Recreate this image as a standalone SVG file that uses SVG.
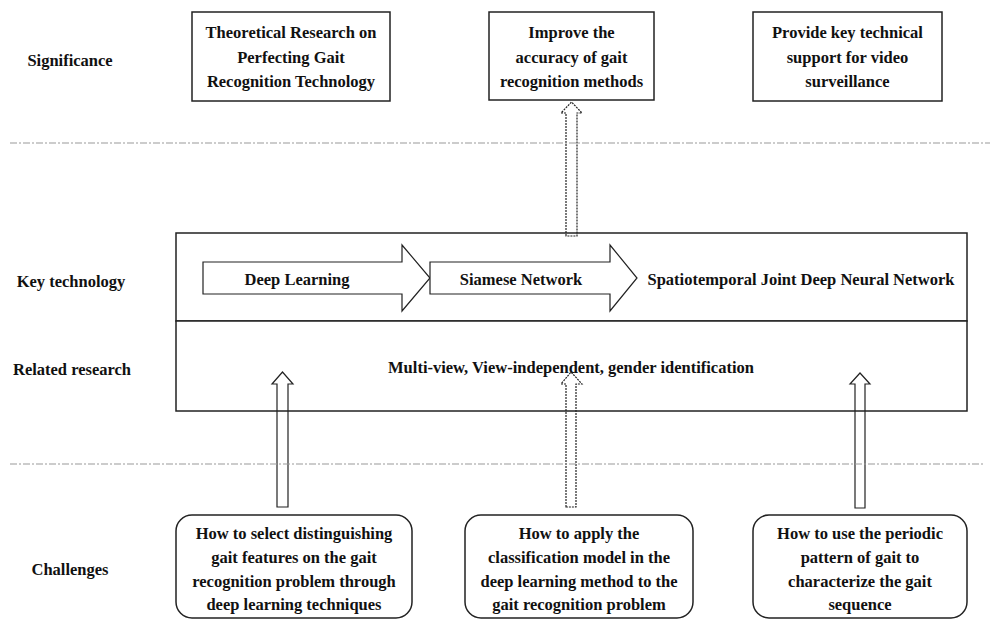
<svg xmlns="http://www.w3.org/2000/svg" width="1008" height="635" viewBox="0 0 1008 635">
<style>
text{font-family:"Liberation Serif","Times New Roman",serif;font-weight:bold;font-size:16.5px;fill:#111;text-anchor:middle}
.box{fill:#fff;stroke:#222;stroke-width:1.5}
.rbox{fill:#fff;stroke:#222;stroke-width:1.5}
.blk{fill:#fff;stroke:#222;stroke-width:1.2}
.up{fill:none;stroke:#222;stroke-width:1.2}
.upd{fill:none;stroke:#222;stroke-width:1.2;stroke-dasharray:2 1}
.sep{fill:none;stroke:#999;stroke-width:1;stroke-dasharray:7 2 2 2}
</style>
<rect width="1008" height="635" fill="#fff"/>

<g id="labels">
<text x="70" y="66">Significance</text>
<text x="71" y="287">Key technology</text>
<text x="72" y="375">Related research</text>
<text x="70" y="575">Challenges</text>
</g>

<g id="sig1">
<rect class="box" x="192" y="12" width="198" height="89"/>
<text x="291" y="38">Theoretical Research on</text>
<text x="291" y="63">Perfecting Gait</text>
<text x="291" y="87">Recognition Technology</text>
</g>
<g id="sig2">
<rect class="box" x="489" y="12" width="165" height="88"/>
<text x="571.5" y="38">Improve the</text>
<text x="571.5" y="63">accuracy of gait</text>
<text x="571.5" y="87">recognition methods</text>
</g>
<g id="sig3">
<rect class="box" x="753" y="12" width="189" height="89"/>
<text x="847.5" y="38">Provide key technical</text>
<text x="847.5" y="63">support for video</text>
<text x="847.5" y="87">surveillance</text>
</g>

<g id="keytech">
<rect class="box" x="176" y="233" width="791" height="88"/>
</g>
<g id="related">
<rect class="box" x="176" y="321" width="791" height="90"/>
<text x="571" y="373">Multi-view, View-independent, gender identification</text>
</g>

<g id="deeplearning">
<polygon class="blk" points="203,262 402,262 402,245 430,278 402,311 402,294 203,294"/>
<text x="297" y="285">Deep Learning</text>
</g>
<g id="siamese">
<polygon class="blk" points="430,262 610,262 610,245 637,278 610,311 610,294 430,294"/>
<text x="521" y="285">Siamese Network</text>
</g>
<g id="stjdnn">
<text x="801" y="285">Spatiotemporal Joint Deep Neural Network</text>
</g>

<g id="ch1">
<rect class="rbox" x="176" y="515" width="236" height="103" rx="16" ry="16"/>
<text x="294" y="539">How to select distinguishing</text>
<text x="294" y="563">gait features on the gait</text>
<text x="294" y="587">recognition problem through</text>
<text x="294" y="610">deep learning techniques</text>
</g>
<g id="ch2">
<rect class="rbox" x="465" y="515" width="228" height="103" rx="16" ry="16"/>
<text x="579" y="539">How to apply the</text>
<text x="579" y="563">classification model in the</text>
<text x="579" y="587">deep learning method to the</text>
<text x="579" y="610">gait recognition problem</text>
</g>
<g id="ch3">
<rect class="rbox" x="753" y="515" width="214" height="103" rx="16" ry="16"/>
<text x="860" y="539">How to use the periodic</text>
<text x="860" y="563">pattern of gait to</text>
<text x="860" y="587">characterize the gait</text>
<text x="860" y="610">sequence</text>
</g>

<g id="connectors">
<polygon class="upd" points="566,236 566,113 561,113 571.5,102 582,113 577,113 577,236"/>
<polygon class="up" points="277,507 277,384 272,384 282.5,372 293,384 288,384 288,507"/>
<polygon class="upd" points="566,507 566,384 561,384 571,372 582,384 576,384 576,507"/>
<polygon class="up" points="855,508 855,384 850,384 860,373 870,384 865,384 865,508"/>
</g>

<g id="separators">
<line class="sep" x1="10" y1="143" x2="990" y2="143"/>
<line class="sep" x1="10" y1="464" x2="985" y2="464"/>
</g>
</svg>
